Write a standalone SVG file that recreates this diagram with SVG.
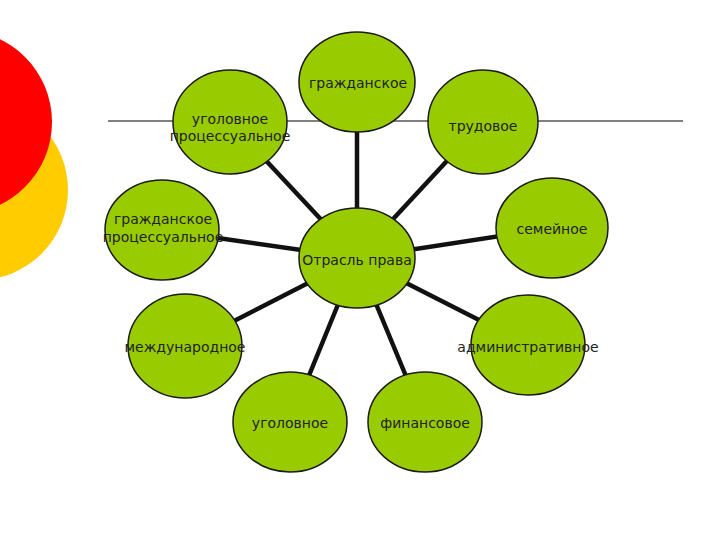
<svg xmlns="http://www.w3.org/2000/svg" width="720" height="540" viewBox="0 0 720 540">
<style>
.n{fill:#99cc00;stroke:#1a1a1a;stroke-width:1.5}
.t{font-family:"DejaVu Sans",sans-serif;font-size:14px;fill:#222;text-anchor:middle}
.c line{stroke:#111;stroke-width:4.5}
</style>
<rect width="720" height="540" fill="#fff"/>
<circle cx="-22" cy="190" r="90" fill="#ffcc00"/>
<circle cx="-40" cy="122" r="92" fill="#ff0000"/>
<line x1="108" y1="121" x2="683" y2="121" stroke="#000" stroke-width="1"/>
<g class="c">
<line x1="357" y1="258" x2="357" y2="82"/>
<line x1="357" y1="258" x2="230" y2="122"/>
<line x1="357" y1="258" x2="483" y2="122"/>
<line x1="357" y1="258" x2="162" y2="230"/>
<line x1="357" y1="258" x2="552" y2="228"/>
<line x1="357" y1="258" x2="185" y2="346"/>
<line x1="357" y1="258" x2="528" y2="345"/>
<line x1="357" y1="258" x2="290" y2="422"/>
<line x1="357" y1="258" x2="425" y2="422"/>
</g>
<g id="n1"><ellipse class="n" cx="357" cy="82" rx="58" ry="50"/><text class="t" x="358" y="88">гражданское</text></g>
<g id="n2"><ellipse class="n" cx="230" cy="122" rx="57" ry="52"/><text class="t" x="230" y="124">уголовное</text><text class="t" x="230" y="141">процессуальное</text></g>
<g id="n3"><ellipse class="n" cx="483" cy="122" rx="55" ry="52"/><text class="t" x="483" y="131">трудовое</text></g>
<g id="n4"><ellipse class="n" cx="162" cy="230" rx="57" ry="50"/><text class="t" x="163" y="224">гражданское</text><text class="t" x="163" y="242">процессуальное</text></g>
<g id="n5"><ellipse class="n" cx="552" cy="228" rx="56" ry="50"/><text class="t" x="552" y="234">семейное</text></g>
<g id="n6"><ellipse class="n" cx="357" cy="258" rx="58" ry="50"/><text class="t" x="357" y="265">Отрасль права</text></g>
<g id="n7"><ellipse class="n" cx="185" cy="346" rx="57" ry="52"/><text class="t" x="185" y="352">международное</text></g>
<g id="n8"><ellipse class="n" cx="528" cy="345" rx="57" ry="50"/><text class="t" x="528" y="352">административное</text></g>
<g id="n9"><ellipse class="n" cx="290" cy="422" rx="57" ry="50"/><text class="t" x="290" y="428">уголовное</text></g>
<g id="n10"><ellipse class="n" cx="425" cy="422" rx="57" ry="50"/><text class="t" x="425" y="428">финансовое</text></g>
</svg>
